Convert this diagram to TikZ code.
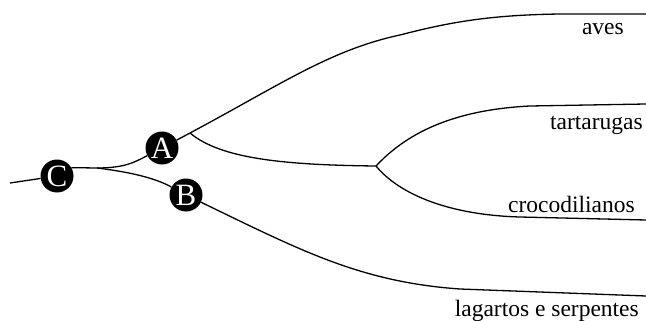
\documentclass[tikz,border=0pt]{standalone}
\usepackage{fontspec}
\setmainfont{Liberation Serif}
\begin{document}
\begin{tikzpicture}[x=1pt,y=-1pt,
  branch/.style={line width=1.3pt},
  dot/.style={circle,fill=black,text=white,minimum size=33pt,inner sep=0pt,font=\fontsize{31}{31}\selectfont},
  taxon/.style={anchor=base east,inner sep=0pt,font=\fontsize{23.5}{26}\selectfont}]
\useasboundingbox (0,0) rectangle (646,321);
\coordinate (R) at (10,183);
\coordinate (J0) at (97,168);
\coordinate (J1) at (190,133);
\coordinate (J2) at (376,166);
\coordinate (E1) at (646,14);
\coordinate (E2) at (646,104);
\coordinate (E3) at (646,220);
\coordinate (E4) at (646,296);
\node[dot] (C) at (57,176) {C};
\node[dot] (A) at (162,148) {A};
\node[dot] (B) at (186,195) {B};
\draw[branch] (R) -- (C);
\draw[branch] (C.30) -- (J0);
\draw[branch] (J0) .. controls (125,168) and (135,162) .. (A);
\draw[branch] (J0) .. controls (130,172) and (155,178) .. (B);
\draw[branch] (A) -- (J1);
\draw[branch] (J1) .. controls (280,85) and (330,50) .. (400,35) .. controls (450,22) and (490,15) .. (560,14) -- (E1);
\draw[branch] (J1) .. controls (220,158) and (280,165) .. (J2);
\draw[branch] (J2) .. controls (405,135) and (450,110) .. (530,106) -- (E2);
\draw[branch] (J2) .. controls (400,195) and (450,215) .. (520,217) -- (E3);
\draw[branch] (B) .. controls (300,250) and (360,282) .. (460,289) -- (E4);
\node[taxon] (aves) at (624,35) {aves};
\node[taxon] (tart) at (643,130) {tartarugas};
\node[taxon] (croc) at (635,212) {crocodilianos};
\node[taxon] (lag) at (639,316) {lagartos e serpentes};
\end{tikzpicture}
\end{document}
